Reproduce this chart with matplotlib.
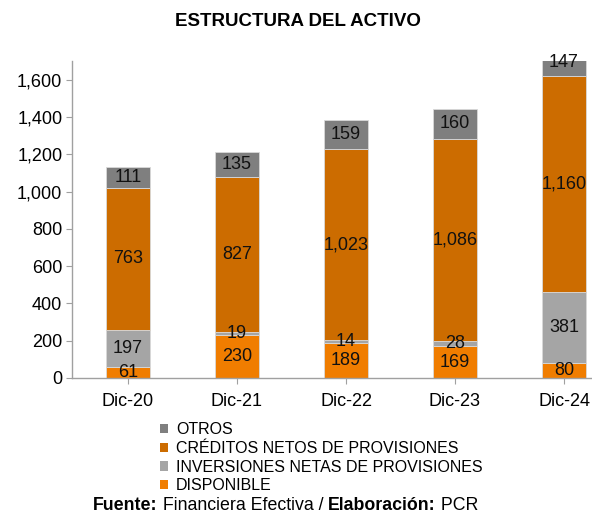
import matplotlib
matplotlib.use("Agg")
import matplotlib.pyplot as plt
import numpy as np
from matplotlib.patches import Patch

plt.rcParams['font.family'] = ['Liberation Sans', 'DejaVu Sans']

categories = ["Dic-20", "Dic-21", "Dic-22", "Dic-23", "Dic-24"]
disponible = [61, 230, 189, 169, 80]
inversiones = [197, 19, 14, 28, 381]
creditos = [763, 827, 1023, 1086, 1160]
otros = [111, 135, 159, 160, 147]
yticks = [0, 200, 400, 600, 800, 1000, 1200, 1400, 1600]

series = [
    ("DISPONIBLE", disponible, "#F07D00"),
    ("INVERSIONES NETAS DE PROVISIONES", inversiones, "#A5A5A5"),
    ("CRÉDITOS NETOS DE PROVISIONES", creditos, "#CC6C00"),
    ("OTROS", otros, "#7F7F7F"),
]

fig = plt.figure(figsize=(5.92, 5.14), dpi=100)
ax = fig.add_axes([72/592, 1-378/514, 1-72/592, (378-61)/514])

x = np.arange(len(categories))
bottom = np.zeros(len(categories))
handles = []
for name, vals, col in series:
    vals = np.array(vals, dtype=float)
    ax.bar(x, vals, 0.4, bottom=bottom, color=col, edgecolor="#D9D9D9", linewidth=0.6, zorder=2)
    for xi, b, v in zip(x, bottom, vals):
        ax.text(xi, b + v/2, f"{int(v):,}", ha="center", va="center", fontsize=13, color="#111111", zorder=3)
    bottom += vals
    handles.append(Patch(facecolor=col, edgecolor='none', label=name))

ax.set_ylim(0, 1700)
ax.set_xlim((72-128)/109, (592-128)/109)
ax.set_yticks(yticks)
ax.set_yticklabels([f"{t:,}" for t in yticks], fontsize=13)
ax.set_xticks(x)
ax.set_xticklabels(categories, fontsize=13)
for s in ["top", "right"]:
    ax.spines[s].set_visible(False)
for s in ["left", "bottom"]:
    ax.spines[s].set_color("#A0A0A0")
    ax.spines[s].set_linewidth(1.0)
ax.tick_params(axis="both", colors="#A0A0A0", labelcolor="black", length=4)
ax.tick_params(axis="x", pad=7)
ax.tick_params(axis="y", pad=3)

fig.text(298/592, 1-21/514, "ESTRUCTURA DEL ACTIVO", ha="center", va="center", fontsize=13.5, fontweight="bold")

leg = fig.legend(handles=handles[::-1], loc="upper left", bbox_to_anchor=(160/592, 1-422/514),
                 frameon=False, fontsize=11.5, handlelength=0.5, handleheight=0.5,
                 handletextpad=0.5, labelspacing=0.24, borderpad=0, borderaxespad=0)

t1 = fig.text(93/592, 1-506/514, "Fuente:", fontsize=12.8, fontweight="bold", va="center", ha="left")
t2 = ax.annotate(" Financiera Efectiva / ", xy=(1, 0.5), xycoords=t1, va="center", ha="left", fontsize=12.8, annotation_clip=False)
t3 = ax.annotate("Elaboración:", xy=(1, 0.5), xycoords=t2, va="center", ha="left", fontsize=12.8, fontweight="bold", annotation_clip=False)
t4 = ax.annotate(" PCR", xy=(1, 0.5), xycoords=t3, va="center", ha="left", fontsize=12.8, annotation_clip=False)

fig.savefig("out.png", dpi=100)
